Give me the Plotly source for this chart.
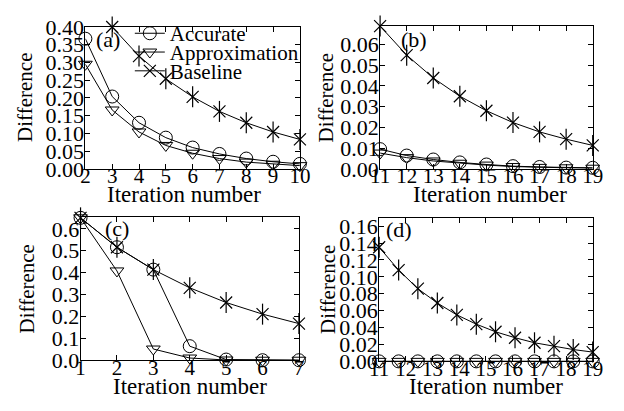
import plotly.graph_objects as go

W, H = 624, 411

# ---------------- data ----------------
# panel (a)
x_a = [2, 3, 4, 5, 6, 7, 8, 9, 10]
acc_a = [0.367, 0.204, 0.130, 0.088, 0.060, 0.042, 0.029, 0.020, 0.014]
app_a = [0.295, 0.166, 0.104, 0.066, 0.044, 0.029, 0.019, 0.013, 0.009]
x_a_base = [3, 4, 5, 6, 7, 8, 9, 10]
base_a = [0.400, 0.318, 0.254, 0.203, 0.162, 0.130, 0.104, 0.083]

# panel (b)
x_b = [11, 12, 13, 14, 15, 16, 17, 18, 19]
acc_b = [0.0095, 0.0064, 0.0045, 0.0031, 0.0021, 0.0013, 0.0009, 0.0006, 0.0005]
app_b = [0.0076, 0.0054, 0.0038, 0.0027, 0.0018, 0.0011, 0.0007, 0.0005, 0.0003]
base_b = [0.0688, 0.0548, 0.0438, 0.0350, 0.0280, 0.0223, 0.0178, 0.0143, 0.0113]

# panel (c)
x_c = [1, 2, 3, 4, 5, 6, 7]
acc_c = [0.650, 0.516, 0.414, 0.065, 0.004, 0.001, 0.001]
app_c = [0.650, 0.408, 0.052, 0.011, 0.002, 0.001, 0.001]
base_c = [0.650, 0.516, 0.414, 0.331, 0.264, 0.211, 0.168]

# panel (d)
x_d = [11.0, 11.73, 12.45, 13.18, 13.91, 14.64, 15.36, 16.09, 16.82, 17.55, 18.27, 19.0]
acc_d = [0.0, 0.0, 0.0, 0.0, 0.0, 0.0, 0.0, 0.0, 0.0, 0.0, 0.0, 0.0]
app_d = [0.0, 0.0, 0.0, 0.0, 0.0, 0.0, 0.0, 0.0, 0.0, 0.0, 0.0, 0.0]
base_d = [0.135, 0.108, 0.086, 0.069, 0.055, 0.044, 0.035, 0.028, 0.022, 0.018, 0.014, 0.011]

series_names = ["Accurate", "Approximation", "Baseline"]
panel_labels = ["(a)", "(b)", "(c)", "(d)"]
x_title = "Iteration number"
y_title = "Difference"

# ---------------- style ----------------
FONT = "Liberation Serif, Times New Roman, serif"
FS_TICK = 22
FS_XTICK = 21
FS_XT = 23
FS_YT = 21
FS_LEG = 21
BLACK = "#000000"

fig = go.Figure()

panels = [
    dict(x=x_a, acc=acc_a, app=app_a, xb=x_a_base, base=base_a, ax="x", ay="y"),
    dict(x=x_b, acc=acc_b, app=app_b, xb=x_b, base=base_b, ax="x2", ay="y2"),
    dict(x=x_c, acc=acc_c, app=app_c, xb=x_c, base=base_c, ax="x3", ay="y3"),
    dict(x=x_d, acc=acc_d, app=app_d, xb=x_d, base=base_d, ax="x4", ay="y4"),
]
legend_ids = ["legend", "legend2", "legend3"]

for i, p in enumerate(panels):
    show = i == 0
    common = dict(xaxis=p["ax"], yaxis=p["ay"], cliponaxis=False)
    fig.add_trace(go.Scatter(
        x=p["x"], y=p["acc"], mode="lines+markers", name=series_names[0],
        showlegend=show, legend=legend_ids[0], line=dict(color=BLACK, width=1),
        marker=dict(symbol="circle-open", size=13, color=BLACK, line=dict(width=1)),
        **common))
    fig.add_trace(go.Scatter(
        x=p["x"], y=p["app"], mode="lines+markers", name=series_names[1],
        showlegend=show, legend=legend_ids[1], line=dict(color=BLACK, width=1),
        marker=dict(symbol="triangle-down-open", size=12, color=BLACK, line=dict(width=1)),
        **common))
    fig.add_trace(go.Scatter(
        x=p["xb"], y=p["base"], mode="lines+markers", name=series_names[2],
        showlegend=show, legend=legend_ids[2], line=dict(color=BLACK, width=1),
        marker=dict(symbol="x-thin-open", size=12, color=BLACK, line=dict(width=1.2)),
        **common))
    fig.add_trace(go.Scatter(
        x=p["xb"], y=p["base"], mode="markers", name=series_names[2],
        showlegend=False, hoverinfo="skip",
        marker=dict(symbol="line-ns-open", size=15, color=BLACK, line=dict(width=1.2)),
        **common))

# axis boxes (pixel positions)
boxes = [
    (78, 300, 16, 167),
    (383, 603, 15, 167),
    (73, 299, 218, 371),
    (382, 603, 219, 372),
]
xranges = [[2, 10], [11, 19], [1, 7], [11, 19]]
yranges = [[0, 0.40], [0, 0.0688], [0, 0.655], [0, 0.170]]
ydtick = [0.05, 0.01, 0.1, 0.02]
yfmt = [".2f", ".2f", ".1f", ".2f"]

axis_common = dict(
    showline=True, linecolor=BLACK, linewidth=1, mirror="ticks",
    ticks="inside", ticklen=5, tickcolor=BLACK, tickwidth=1,
    showgrid=False, zeroline=False,
)

layout_axes = {}
for i, (l, r, t, b) in enumerate(boxes):
    sfx = "" if i == 0 else str(i + 1)
    layout_axes["xaxis" + sfx] = dict(
        domain=[l / W, r / W], range=xranges[i], dtick=1, tick0=0,
        anchor="y" + sfx, ticklabelstandoff=-12,
        tickfont=dict(family=FONT, size=FS_XTICK, color=BLACK), **axis_common)
    layout_axes["yaxis" + sfx] = dict(
        domain=[1 - b / H, 1 - t / H], range=yranges[i], dtick=ydtick[i], tick0=0,
        tickformat=yfmt[i], anchor="x" + sfx, ticklabelstandoff=-4,
        tickfont=dict(family=FONT, size=FS_TICK, color=BLACK), **axis_common)

fig.update_layout(**layout_axes)

annotations = []
# panel labels
label_pos = [(101, 29), (418, 29), (111, 230), (403, 232)]
for lab, (px, py) in zip(panel_labels, label_pos):
    annotations.append(dict(text=lab, x=px / W, y=1 - py / H, xref="paper", yref="paper",
                            showarrow=False, xanchor="center", yanchor="middle",
                            font=dict(family=FONT, size=FS_TICK, color=BLACK)))
# axis titles
ytitle_pos = [(16, 91), (328, 91), (18, 295), (329, 295)]
for (px, py) in ytitle_pos:
    annotations.append(dict(text=y_title, x=px / W, y=1 - py / H, xref="paper", yref="paper",
                            showarrow=False, textangle=-90, xanchor="center", yanchor="middle",
                            font=dict(family=FONT, size=FS_YT, color=BLACK)))
xtitle_pos = [(180, 194), (497, 194), (186, 399), (493, 399)]
for (px, py) in xtitle_pos:
    annotations.append(dict(text=x_title, x=px / W, y=1 - py / H, xref="paper", yref="paper",
                            showarrow=False, xanchor="center", yanchor="middle",
                            font=dict(family=FONT, size=FS_XT, color=BLACK)))

leg_common = dict(xanchor="left", yanchor="middle", bgcolor="rgba(0,0,0,0)",
                  borderwidth=0, font=dict(family=FONT, size=FS_LEG, color=BLACK))
leg_rows = [23, 43, 63]
fig.update_layout(
    width=W, height=H,
    margin=dict(l=0, r=0, t=0, b=0),
    paper_bgcolor="white", plot_bgcolor="white",
    font=dict(family=FONT, size=FS_TICK, color=BLACK),
    annotations=annotations,
    legend=dict(x=124 / W, y=1 - leg_rows[0] / H, **leg_common),
    legend2=dict(x=124 / W, y=1 - leg_rows[1] / H, **leg_common),
    legend3=dict(x=124 / W, y=1 - leg_rows[2] / H, **leg_common),
    showlegend=True,
)

post = ("document.body.style.margin='0';document.body.style.padding='0';"
        "var d=document.getElementById('{plot_id}');"
        "d.style.position='absolute';d.style.left='0px';d.style.top='0px';")
fig.write_html("out.html", post_script=post, config={"displayModeBar": False})
